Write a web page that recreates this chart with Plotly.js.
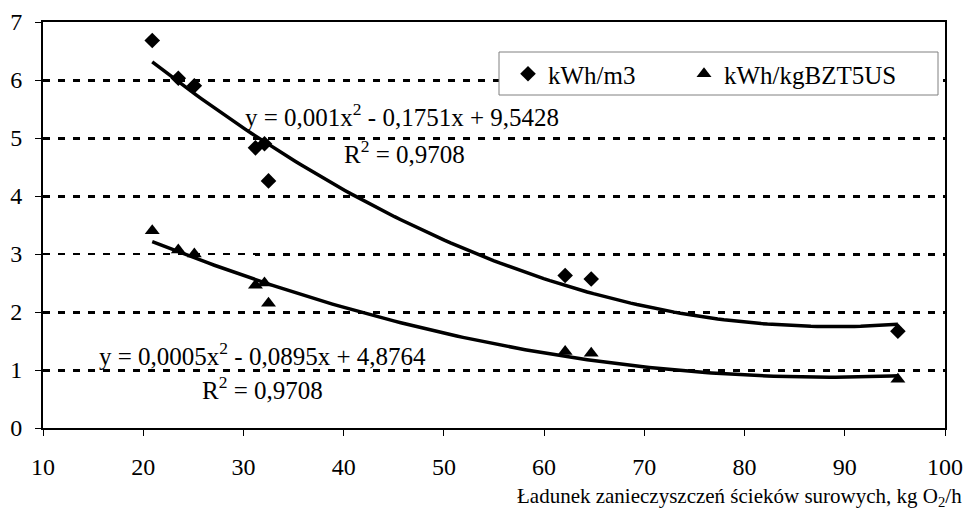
<!DOCTYPE html>
<html>
<head>
<meta charset="utf-8">
<script src="https://cdn.plot.ly/plotly-3.0.1.min.js"></script>
<style>html,body{margin:0;padding:0;background:#fff;}#chart{width:966px;height:512px;}</style>
</head>
<body>
<div id="chart"></div>
<script>
// Data
const loadX = [20.9, 23.5, 25.1, 31.2, 32.1, 32.5, 62.1, 64.7, 95.3];
const kwhPerM3 = [6.68, 6.03, 5.90, 4.83, 4.90, 4.26, 2.63, 2.57, 1.67];
const kwhPerKgBZT5 = [3.40, 3.07, 3.00, 2.46, 2.50, 2.15, 1.32, 1.29, 0.84];
const seriesNames = ['kWh/m3', 'kWh/kgBZT5US'];
const xTicks = [10, 20, 30, 40, 50, 60, 70, 80, 90, 100];
const yTicks = [0, 1, 2, 3, 4, 5, 6, 7];
const eqUpper = 'y = 0,001x<sup>2</sup> - 0,1751x + 9,5428';
const eqLower = 'y = 0,0005x<sup>2</sup> - 0,0895x + 4,8764';
const r2Text = 'R<sup>2</sup> = 0,9708';
const xTitle = 'Ładunek zanieczyszczeń ścieków surowych, kg O<sub>2</sub>/h';

// Least-squares quadratic trendline (as the spreadsheet's polynomial trendline)
function polyFit2(xs, ys) {
  let S = [0,0,0,0,0], T = [0,0,0];
  for (let i = 0; i < xs.length; i++) {
    let p = 1;
    for (let k = 0; k < 5; k++) { S[k] += p; if (k < 3) T[k] += p * ys[i]; p *= xs[i]; }
  }
  const A = [[S[0],S[1],S[2],T[0]],[S[1],S[2],S[3],T[1]],[S[2],S[3],S[4],T[2]]];
  for (let c = 0; c < 3; c++) {
    for (let r = c + 1; r < 3; r++) {
      const f = A[r][c] / A[c][c];
      for (let k = c; k < 4; k++) A[r][k] -= f * A[c][k];
    }
  }
  const sol = [0,0,0];
  for (let r = 2; r >= 0; r--) {
    let s = A[r][3];
    for (let k = r + 1; k < 3; k++) s -= A[r][k] * sol[k];
    sol[r] = s / A[r][r];
  }
  return sol;
}
function trend(xs, ys) {
  const c = polyFit2(xs, ys);
  const lo = Math.min(...xs), hi = Math.max(...xs);
  const tx = [], ty = [];
  for (let i = 0; i <= 120; i++) {
    const x = lo + (hi - lo) * i / 120;
    tx.push(x); ty.push(c[0] + c[1] * x + c[2] * x * x);
  }
  return {tx, ty};
}
const t1 = trend(loadX, kwhPerM3);
const t2 = trend(loadX, kwhPerKgBZT5);

const FONT = 'Liberation Serif, Times New Roman, serif';
const traces = [
  {x: t1.tx, y: t1.ty, mode: 'lines', line: {color: '#000', width: 3.5}, showlegend: false, hoverinfo: 'skip'},
  {x: t2.tx, y: t2.ty, mode: 'lines', line: {color: '#000', width: 3.5}, showlegend: false, hoverinfo: 'skip'},
  {x: loadX, y: kwhPerM3, name: seriesNames[0], mode: 'markers', legend: 'legend',
   marker: {symbol: 'diamond', size: 12, color: '#000'}},
  {x: loadX, y: kwhPerKgBZT5, name: seriesNames[1], mode: 'markers', legend: 'legend2',
   marker: {symbol: 'triangle-up', size: 13, color: '#000'}}
];

const legendStyle = {
  orientation: 'h', xanchor: 'left', yanchor: 'middle', y: (428 - 74) / 406,
  borderwidth: 0, bgcolor: 'rgba(0,0,0,0)',
  font: {family: FONT, size: 25, color: '#000'}
};

const layout = {
  width: 966, height: 512,
  margin: {l: 43, r: 21, t: 22, b: 84},
  paper_bgcolor: '#fff', plot_bgcolor: '#fff',
  font: {family: FONT, size: 24, color: '#000'},
  showlegend: true,
  legend: Object.assign({}, legendStyle, {x: (508 - 43) / 902}),
  legend2: Object.assign({}, legendStyle, {x: (684 - 43) / 902}),
  shapes: [
    {type: 'rect', xref: 'paper', yref: 'paper', layer: 'above',
     x0: (499 - 43) / 902, x1: (938 - 43) / 902, y0: (428 - 95) / 406, y1: (428 - 52) / 406,
     line: {color: '#808080', width: 1}, fillcolor: '#fff'}
  ],
  xaxis: {
    range: [10, 100], tickvals: xTicks, ticktext: xTicks.map(String),
    showgrid: false, zeroline: false,
    showline: true, linecolor: '#000', linewidth: 2, mirror: true,
    ticks: 'outside', ticklen: 6, tickwidth: 1, tickcolor: '#000',
    ticklabelstandoff: 10,
    tickfont: {family: FONT, size: 24, color: '#000'}
  },
  yaxis: {
    range: [0, 7], tickvals: yTicks, ticktext: yTicks.map(String),
    showgrid: true, gridcolor: '#000', gridwidth: 3, griddash: '7px,8px',
    zeroline: false,
    showline: true, linecolor: '#000', linewidth: 2, mirror: true,
    ticks: 'outside', ticklen: 6, tickwidth: 1, tickcolor: '#000',
    ticklabelstandoff: 8,
    tickfont: {family: FONT, size: 24, color: '#000'}
  },
  annotations: [
    {x: 243, y: 115, text: eqUpper, font: {size: 25}},
    {x: 342, y: 152, text: r2Text, font: {size: 25}},
    {x: 97, y: 354, text: eqLower, font: {size: 25}},
    {x: 200, y: 388, text: r2Text, font: {size: 25}},
    {x: 1, y: -0.125, xref: 'paper', yref: 'paper', text: xTitle, showarrow: false, xanchor: 'right', yanchor: 'top', xshift: 19, yshift: -3, font: {size: 21}}
  ]
};
// first four annotations are placed by pixel position, converted through the axis scales
const pxAnn = layout.annotations.slice(0, 4).map(a => ({px: a.x, py: a.y}));
layout.annotations.forEach((a, i) => {
  if (i < 4) { a.x = 10; a.y = 0; a.xref = 'x'; a.yref = 'y'; a.showarrow = false; a.xanchor = 'left'; a.yanchor = 'middle'; }
});

Plotly.newPlot('chart', traces, layout, {staticPlot: true}).then(gd => {
  const xa = gd._fullLayout.xaxis, ya = gd._fullLayout.yaxis;
  const anns = gd.layout.annotations.map(a => Object.assign({}, a));
  pxAnn.forEach((p, i) => {
    anns[i].x = xa.p2l(p.px - xa._offset);
    anns[i].y = ya.p2l(p.py - ya._offset);
  });
  return Plotly.relayout(gd, {annotations: anns});
});
</script>
</body>
</html>
